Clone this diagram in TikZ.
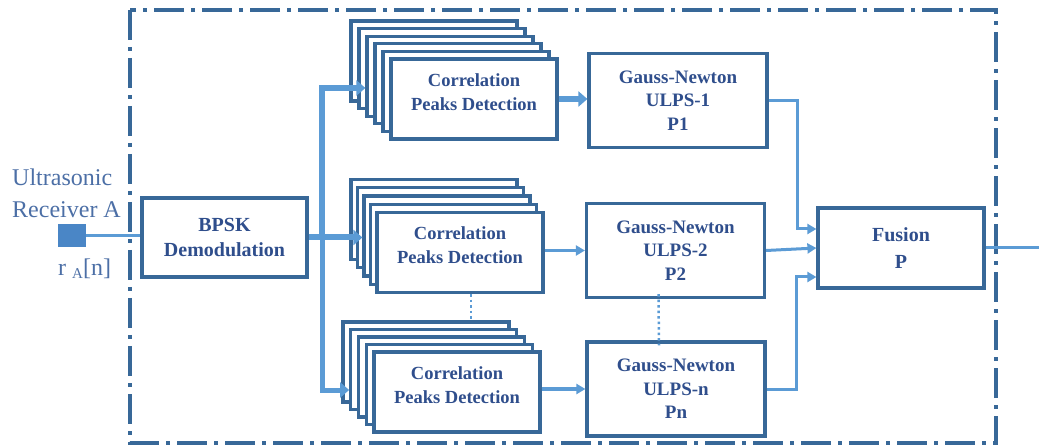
\documentclass[tikz,border=0pt]{standalone}
\usepackage{fontspec}
\setmainfont{Liberation Serif}
\usetikzlibrary{arrows.meta}
\definecolor{boxblue}{HTML}{386898}
\definecolor{lineblue}{HTML}{5B9BD5}
\definecolor{padblue}{HTML}{4A86C6}
\definecolor{textblue}{HTML}{2F4E8C}
\definecolor{labelblue}{HTML}{4C6FA6}
\tikzstyle{block}=[draw=boxblue, line width=3.2pt, fill=white, inner sep=0pt, align=center, text=textblue, font=\fontsize{19}{23.5}\selectfont\bfseries]
\tikzstyle{corr}=[block, minimum width=166pt, minimum height=80pt, text depth=14pt, font=\fontsize{18.5}{24}\selectfont\bfseries]
\tikzstyle{gauss}=[block, minimum width=178pt, minimum height=94pt]
\tikzstyle{bus}=[lineblue, line width=6pt]
\tikzstyle{busarrow}=[bus, -{Triangle[length=9pt,width=15pt]}]
\tikzstyle{link}=[lineblue, line width=3pt, -{Triangle[length=9pt,width=10pt]}]
\tikzstyle{dotline}=[lineblue, line width=2.5pt, dash pattern=on 2.5pt off 3pt]

\begin{document}
\begin{tikzpicture}[x=1pt, y=-1pt]
\useasboundingbox (0,0) rectangle (1039,446);
\draw[boxblue, line width=3.5pt, dash pattern=on 30pt off 7pt on 4pt off 7pt] (130,10) rectangle (996,443);

% receiver
\node[fill=padblue, minimum width=28pt, minimum height=23pt, inner sep=0pt] (rx) at (72,235.5) {};
\node[labelblue, font=\fontsize{24}{32}\selectfont, align=left, anchor=west, inner sep=0pt] (rxname) at (12,193) {Ultrasonic\\Receiver A};
\node[labelblue, font=\fontsize{24}{28}\selectfont, anchor=base west, inner sep=0pt] (rxsig) at (58,276) {r~\raisebox{-3pt}{\fontsize{15}{15}\selectfont A}[n]};

\node[block, minimum width=165pt, minimum height=79pt, font=\fontsize{20}{25}\selectfont\bfseries] (bpsk) at (224.5,237.5) {BPSK\\Demodulation};

% correlation stacks
\node[corr] (top5) at (434,61)   {};
\node[corr] (top4) at (442,68.6) {};
\node[corr] (top3) at (450,76.2) {};
\node[corr] (top2) at (458,83.8) {};
\node[corr] (top1) at (466,91.4) {};
\node[corr] (top)  at (474,99)   {Correlation\\Peaks Detection};

\node[corr] (mid4) at (434,219.7)   {};
\node[corr] (mid3) at (440.5,227.9) {};
\node[corr] (mid2) at (447,236.1)   {};
\node[corr] (mid1) at (453.5,244.3) {};
\node[corr] (mid)  at (460,252.5)   {Correlation\\Peaks Detection};

\node[corr] (bot4) at (426,362)      {};
\node[corr] (bot3) at (433.75,369.5) {};
\node[corr] (bot2) at (441.5,377)    {};
\node[corr] (bot1) at (449.25,384.5) {};
\node[corr] (bot)  at (457,392)      {Correlation\\Peaks Detection};

% estimators
\node[gauss] (gn1) at (678,100.5) {Gauss-Newton\\ULPS-1\\P1};
\node[gauss] (gn2) at (675.5,250.5) {Gauss-Newton\\ULPS-2\\P2};
\node[gauss] (gnn) at (676,389) {Gauss-Newton\\ULPS-n\\Pn};
\node[block, minimum width=166pt, minimum height=80pt, font=\fontsize{20}{27}\selectfont\bfseries] (fusion) at (901,248) {Fusion\\P};

\coordinate (split) at (322,237.5);
\coordinate (bustop) at (322,88);
\coordinate (busbot) at (322,390);
\coordinate (out) at (1039,248);

\draw[lineblue, line width=3pt] (rx.east) -- (bpsk.west |- rx.east);
\draw[bus] (bpsk.east) -- (split);
\draw[busarrow] (split) |- (top3.west |- bustop);
\draw[busarrow] (split) -- (mid2.west |- split);
\draw[busarrow, line width=5pt] (split) |- (bot3.west |- busbot);

\draw[busarrow] (top.east) -- (gn1.west |- top.east);
\draw[link, line width=3.5pt] (mid.east |- gn2.west) -- (gn2.west);
\draw[link, line width=4.5pt] (bot.east |- gnn.west) -- (gnn.west);

\draw[link] (gn1.east) -- ++(29,0) |- ([yshift=19pt]fusion.west);
\draw[link] (gn2.east) -- (fusion.west);
\draw[link] (gnn.east) -- ++(30,0) |- ([yshift=-29pt]fusion.west);
\draw[lineblue, line width=3pt] (fusion.east) -- (out);

\draw[dotline] ([xshift=11pt]mid.south) -- ([xshift=11pt]mid.south |- bot4.north);
\draw[dotline] ([xshift=-17pt,yshift=5pt]gn2.south) -- ([xshift=-17pt,yshift=-5pt]gnn.north);
\end{tikzpicture}
\end{document}
